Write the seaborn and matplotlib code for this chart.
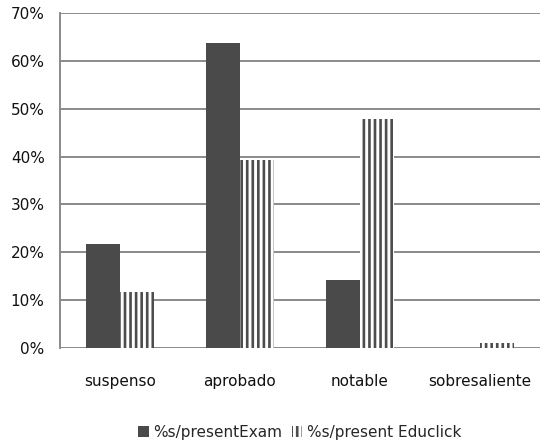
import pandas as pd
import matplotlib.pyplot as plt
import seaborn as sns
from matplotlib.patches import Patch
from matplotlib.ticker import PercentFormatter

sns.set_theme(style="white")
plt.rcParams['font.family'] = ['DejaVu Sans']
plt.rcParams['hatch.linewidth'] = 1.9

categories = ["suspenso", "aprobado", "notable", "sobresaliente"]
exam = [21.7, 63.8, 14.2, 0.0]
educlick = [11.7, 39.2, 47.8, 1.0]
series_names = ["%s/presentExam", "%s/present Educlick"]

df = pd.DataFrame({
    "categoria": categories * 2,
    "valor": exam + educlick,
    "serie": [series_names[0]] * 4 + [series_names[1]] * 4,
})

fig = plt.figure(figsize=(5.4, 4.46), dpi=100)
ax = fig.add_axes([0.111, 0.2197, 0.889, 0.7512])

sns.barplot(data=df, x="categoria", y="valor", hue="serie", order=categories,
            hue_order=series_names, palette=["#4a4a4a", "white"], width=0.57,
            saturation=1, legend=False, ax=ax)

# striped bars for the second series
n = len(categories)
for i, p in enumerate(ax.patches):
    if i < n:
        p.set_edgecolor("#4a4a4a")
        p.set_linewidth(0)
    else:
        p.set_facecolor("white")
        p.set_edgecolor("#4d4d4d")
        p.set_hatch("|||")
        p.set_linewidth(0)

ax.set_ylim(0, 70)
ax.set_xlim(-0.5, 3.5)
ax.set_yticks(range(0, 71, 10))
ax.yaxis.set_major_formatter(PercentFormatter(decimals=0))
ax.grid(axis="y", color="#8a8a8a", linewidth=1.4)
ax.set_axisbelow(True)
for s in ["right", "bottom", "top"]:
    ax.spines[s].set_visible(False)
ax.spines["left"].set_color("#8a8a8a")
ax.spines["left"].set_linewidth(1.4)
ax.tick_params(axis="x", length=0, pad=19, labelsize=11, colors="#111111")
ax.tick_params(axis="y", length=0, pad=11, labelsize=11, colors="#111111")
ax.set_xlabel("")
ax.set_ylabel("")

handles = [Patch(facecolor="#4a4a4a", edgecolor="#4a4a4a", linewidth=0),
           Patch(facecolor="white", edgecolor="#4d4d4d", hatch="|||", linewidth=0)]
fig.legend(handles, series_names, loc="center", bbox_to_anchor=(0.555, 0.03),
           ncol=2, frameon=False, fontsize=11, handlelength=0.7,
           handleheight=0.7, handletextpad=0.3, columnspacing=0.6)

fig.savefig("out.png", dpi=100)
